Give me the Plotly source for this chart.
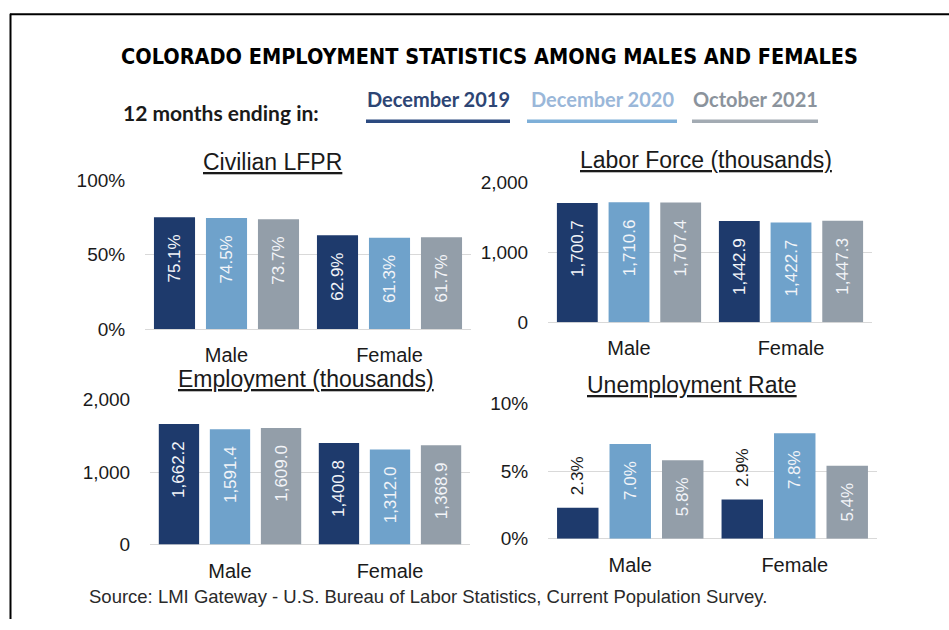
import plotly.graph_objects as go

W, H = 949, 630

categories = ["Male", "Female"]
series_names = ["December 2019", "December 2020", "October 2021"]

lfpr = {"December 2019": [75.1, 62.9], "December 2020": [74.5, 61.3], "October 2021": [73.7, 61.7]}
labor_force = {"December 2019": [1700.7, 1442.9], "December 2020": [1710.6, 1422.7], "October 2021": [1707.4, 1447.3]}
employment = {"December 2019": [1662.2, 1400.8], "December 2020": [1591.4, 1312.0], "October 2021": [1609.0, 1368.9]}
unemp_rate = {"December 2019": [2.3, 2.9], "December 2020": [7.0, 7.8], "October 2021": [5.8, 5.4]}

bar_colors = {"December 2019": "#1e3a6c", "December 2020": "#6fa2cb", "October 2021": "#939ea9"}
legend_text_colors = {"December 2019": "#2d4574", "December 2020": "#9ab7d9", "October 2021": "#8b939c"}
legend_line_colors = {"December 2019": "#2c4a80", "December 2020": "#7eafd8", "October 2021": "#a3abb3"}

NB = "\u00a0"

def px(x):
    return x / W

def py(y):
    return 1 - y / H

fig = go.Figure()

panels = [
    (lfpr, "", lambda v: f"{v:.1f}%", set()),
    (labor_force, "2", lambda v: f"{v:,.1f}", set()),
    (employment, "3", lambda v: f"{v:,.1f}", set()),
    (unemp_rate, "4", lambda v: f"{v:.1f}%", {"December 2019"}),
]

for data, ax, fmt, outside in panels:
    for s in series_names:
        vals = data[s]
        if s in outside:
            texts = [NB + NB + fmt(v) for v in vals]
            tpos = "outside"
            tcol = "#1a1a1a"
        else:
            texts = [fmt(v) + NB + NB + NB for v in vals]
            tpos = "inside"
            tcol = "#f2f4f8"
        fig.add_trace(go.Bar(
            x=categories, y=vals, name=s, text=texts,
            textposition=tpos, textangle=-90, insidetextanchor="end",
            constraintext="none", cliponaxis=False,
            textfont=dict(family="Liberation Sans, Arial", size=17, color=tcol),
            marker=dict(color=bar_colors[s], line=dict(width=0)),
            xaxis="x" + ax, yaxis="y" + ax, showlegend=False, hoverinfo="skip",
        ))

axis_font = dict(family="Liberation Sans, Arial", size=19, color="#1a1a1a")
cat_font = dict(family="Liberation Sans, Arial", size=20, color="#1a1a1a")
grid = "#d9d9d9"

def xax(x0, x1, anchor):
    return dict(domain=[px(x0), px(x1)], anchor=anchor, type="category",
                range=[-0.5, 1.5], showgrid=False, showline=False, zeroline=False,
                ticks="outside", ticklen=8, tickcolor="rgba(0,0,0,0)", tickfont=cat_font)

def yax(y0, y1, anchor, rng, dtick, suffix="", fmt=""):
    return dict(domain=[py(y0), py(y1)], anchor=anchor, range=rng, dtick=dtick,
                ticksuffix=suffix, tickformat=fmt, showgrid=True, gridcolor=grid, gridwidth=1.3,
                zeroline=True, zerolinecolor=grid, zerolinewidth=1.3, showline=False,
                ticks="outside", ticklen=15, tickcolor="rgba(0,0,0,0)", tickfont=axis_font)

fig.update_layout(
    width=W, height=H, margin=dict(l=0, r=0, t=0, b=0),
    paper_bgcolor="white", plot_bgcolor="white",
    barmode="group", bargap=0.043, bargroupgap=0.21,
    xaxis=xax(145, 471, "y"),
    yaxis=yax(330, 176, "x", [0, 100], 50, suffix="%"),
    xaxis2=xax(548, 872, "y2"),
    yaxis2=yax(323, 178, "x2", [0, 2000], 1000, fmt=","),
    xaxis3=xax(150, 470, "y3"),
    yaxis3=yax(553, 403, "x3", [0, 2000], 1000, fmt=","),
    xaxis4=xax(548, 877, "y4"),
    yaxis4=yax(547, 407, "x4", [0, 10], 5, suffix="%"),
)

annotations = []
annotations.append(dict(text="<b>COLORADO EMPLOYMENT STATISTICS AMONG MALES AND FEMALES</b>",
                        x=px(489), y=py(48), xref="paper", yref="paper", showarrow=False,
                        xanchor="center", yanchor="middle",
                        font=dict(family="DejaVu Sans Condensed, Liberation Sans", size=21.5, color="#000000")))
annotations.append(dict(text="<b>12 months ending in:</b>", x=px(121), y=py(106), xref="paper", yref="paper",
                        showarrow=False, xanchor="left", yanchor="middle",
                        font=dict(family="Lato", size=21, color="#1a1a1a")))

legend_pos = {"December 2019": (366, 510), "December 2020": (527, 677), "October 2021": (692, 818)}
shapes = []
for s in series_names:
    x0, x1 = legend_pos[s]
    annotations.append(dict(text=f"<b>{s}</b>", x=px((x0 + x1) / 2), y=py(92), xref="paper", yref="paper",
                            showarrow=False, xanchor="center", yanchor="middle",
                            font=dict(family="Lato", size=20, color=legend_text_colors[s])))
    shapes.append(dict(type="line", xref="paper", yref="paper", x0=px(x0), x1=px(x1), y0=py(115), y1=py(115),
                       line=dict(color=legend_line_colors[s], width=3.5)))

sub_titles = [("Civilian LFPR", 272, 157), ("Labor Force (thousands)", 706, 155),
              ("Employment (thousands)", 306, 382), ("Unemployment Rate", 692, 388)]
for t, x, y in sub_titles:
    annotations.append(dict(text=f"<u>{t}</u>", x=px(x), y=py(y), xref="paper", yref="paper",
                            showarrow=False, xanchor="center", yanchor="middle",
                            font=dict(family="Liberation Sans, Arial", size=23, color="#1a1a1a")))

annotations.append(dict(text="Source: LMI Gateway - U.S. Bureau of Labor Statistics, Current Population Survey.",
                        x=px(87), y=py(607), xref="paper", yref="paper", showarrow=False,
                        xanchor="left", yanchor="middle",
                        font=dict(family="Liberation Sans, Arial", size=18.5, color="#2a2a2a")))

shapes.append(dict(type="line", xref="paper", yref="paper", x0=px(10), x1=1, y0=py(4.5), y1=py(4.5),
                   line=dict(color="#000000", width=2)))
shapes.append(dict(type="line", xref="paper", yref="paper", x0=px(10.5), x1=px(10.5), y0=py(4), y1=0,
                   line=dict(color="#000000", width=2)))

fig.update_layout(annotations=annotations, shapes=shapes)
fig.write_html("out.html", config={"displayModeBar": False},
               post_script="document.body.style.margin='0';document.body.style.overflow='hidden';")
